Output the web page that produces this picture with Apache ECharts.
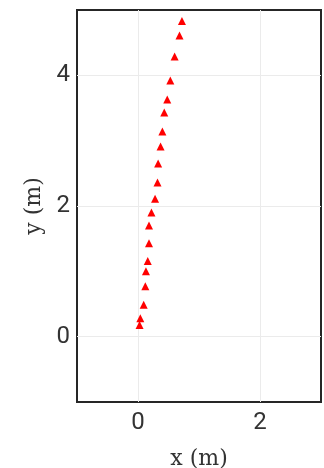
<!DOCTYPE html>
<html>
<head>
<meta charset="utf-8">
<script src="https://cdn.jsdelivr.net/npm/echarts@6/dist/echarts.min.js"></script>
<style>
html,body{margin:0;padding:0;background:#fff;}
#chart{width:324px;height:468px;}
</style>
</head>
<body>
<div id="chart"></div>
<script>
const xValues = [0.026, 0.038, 0.093, 0.12, 0.13, 0.16, 0.18, 0.18, 0.22, 0.28, 0.32, 0.33, 0.37, 0.40, 0.43, 0.48, 0.53, 0.60, 0.68, 0.72];
const yValues = [0.18, 0.28, 0.49, 0.77, 1.00, 1.16, 1.43, 1.70, 1.90, 2.11, 2.36, 2.65, 2.91, 3.14, 3.43, 3.63, 3.92, 4.29, 4.61, 4.83];
const xTicks = [0, 2];
const yTicks = [0, 2, 4];
const xRange = [-1, 3];
const yRange = [-1, 5];

const points = xValues.map((x, i) => [x, yValues[i]]);

const chart = echarts.init(document.getElementById('chart'), null, {renderer: 'canvas'});
const tickLabel = {fontFamily: 'Roboto', fontSize: 24, color: '#333333'};
chart.setOption({
  animation: false,
  grid: {left: 77, right: 3, top: 10, bottom: 66, show: true, borderColor: '#262626', borderWidth: 2, containLabel: false, outerBoundsMode: 'none'},
  xAxis: {
    type: 'value', min: xRange[0], max: xRange[1],
    name: 'x (m)', nameLocation: 'middle', nameGap: 46,
    nameTextStyle: {fontFamily: 'DejaVu Serif', fontSize: 22, color: '#333333'},
    axisLine: {show: false},
    axisTick: {show: false, customValues: xTicks},
    axisLabel: Object.assign({customValues: xTicks, margin: 9}, tickLabel),
    splitLine: {show: true, lineStyle: {color: '#ebebeb', width: 1}}
  },
  yAxis: {
    type: 'value', min: yRange[0], max: yRange[1],
    name: 'y (m)', nameLocation: 'middle', nameGap: 31,
    nameTextStyle: {fontFamily: 'DejaVu Serif', fontSize: 22, color: '#333333'},
    axisLine: {show: false},
    axisTick: {show: false, customValues: yTicks},
    axisLabel: Object.assign({customValues: yTicks, margin: 7}, tickLabel),
    splitLine: {show: true, lineStyle: {color: '#ebebeb', width: 1}}
  },
  series: [{
    type: 'scatter',
    data: points,
    symbol: 'triangle',
    symbolSize: [8, 8],
    itemStyle: {color: '#ff0000', opacity: 1}
  }]
});
</script>
</body>
</html>
